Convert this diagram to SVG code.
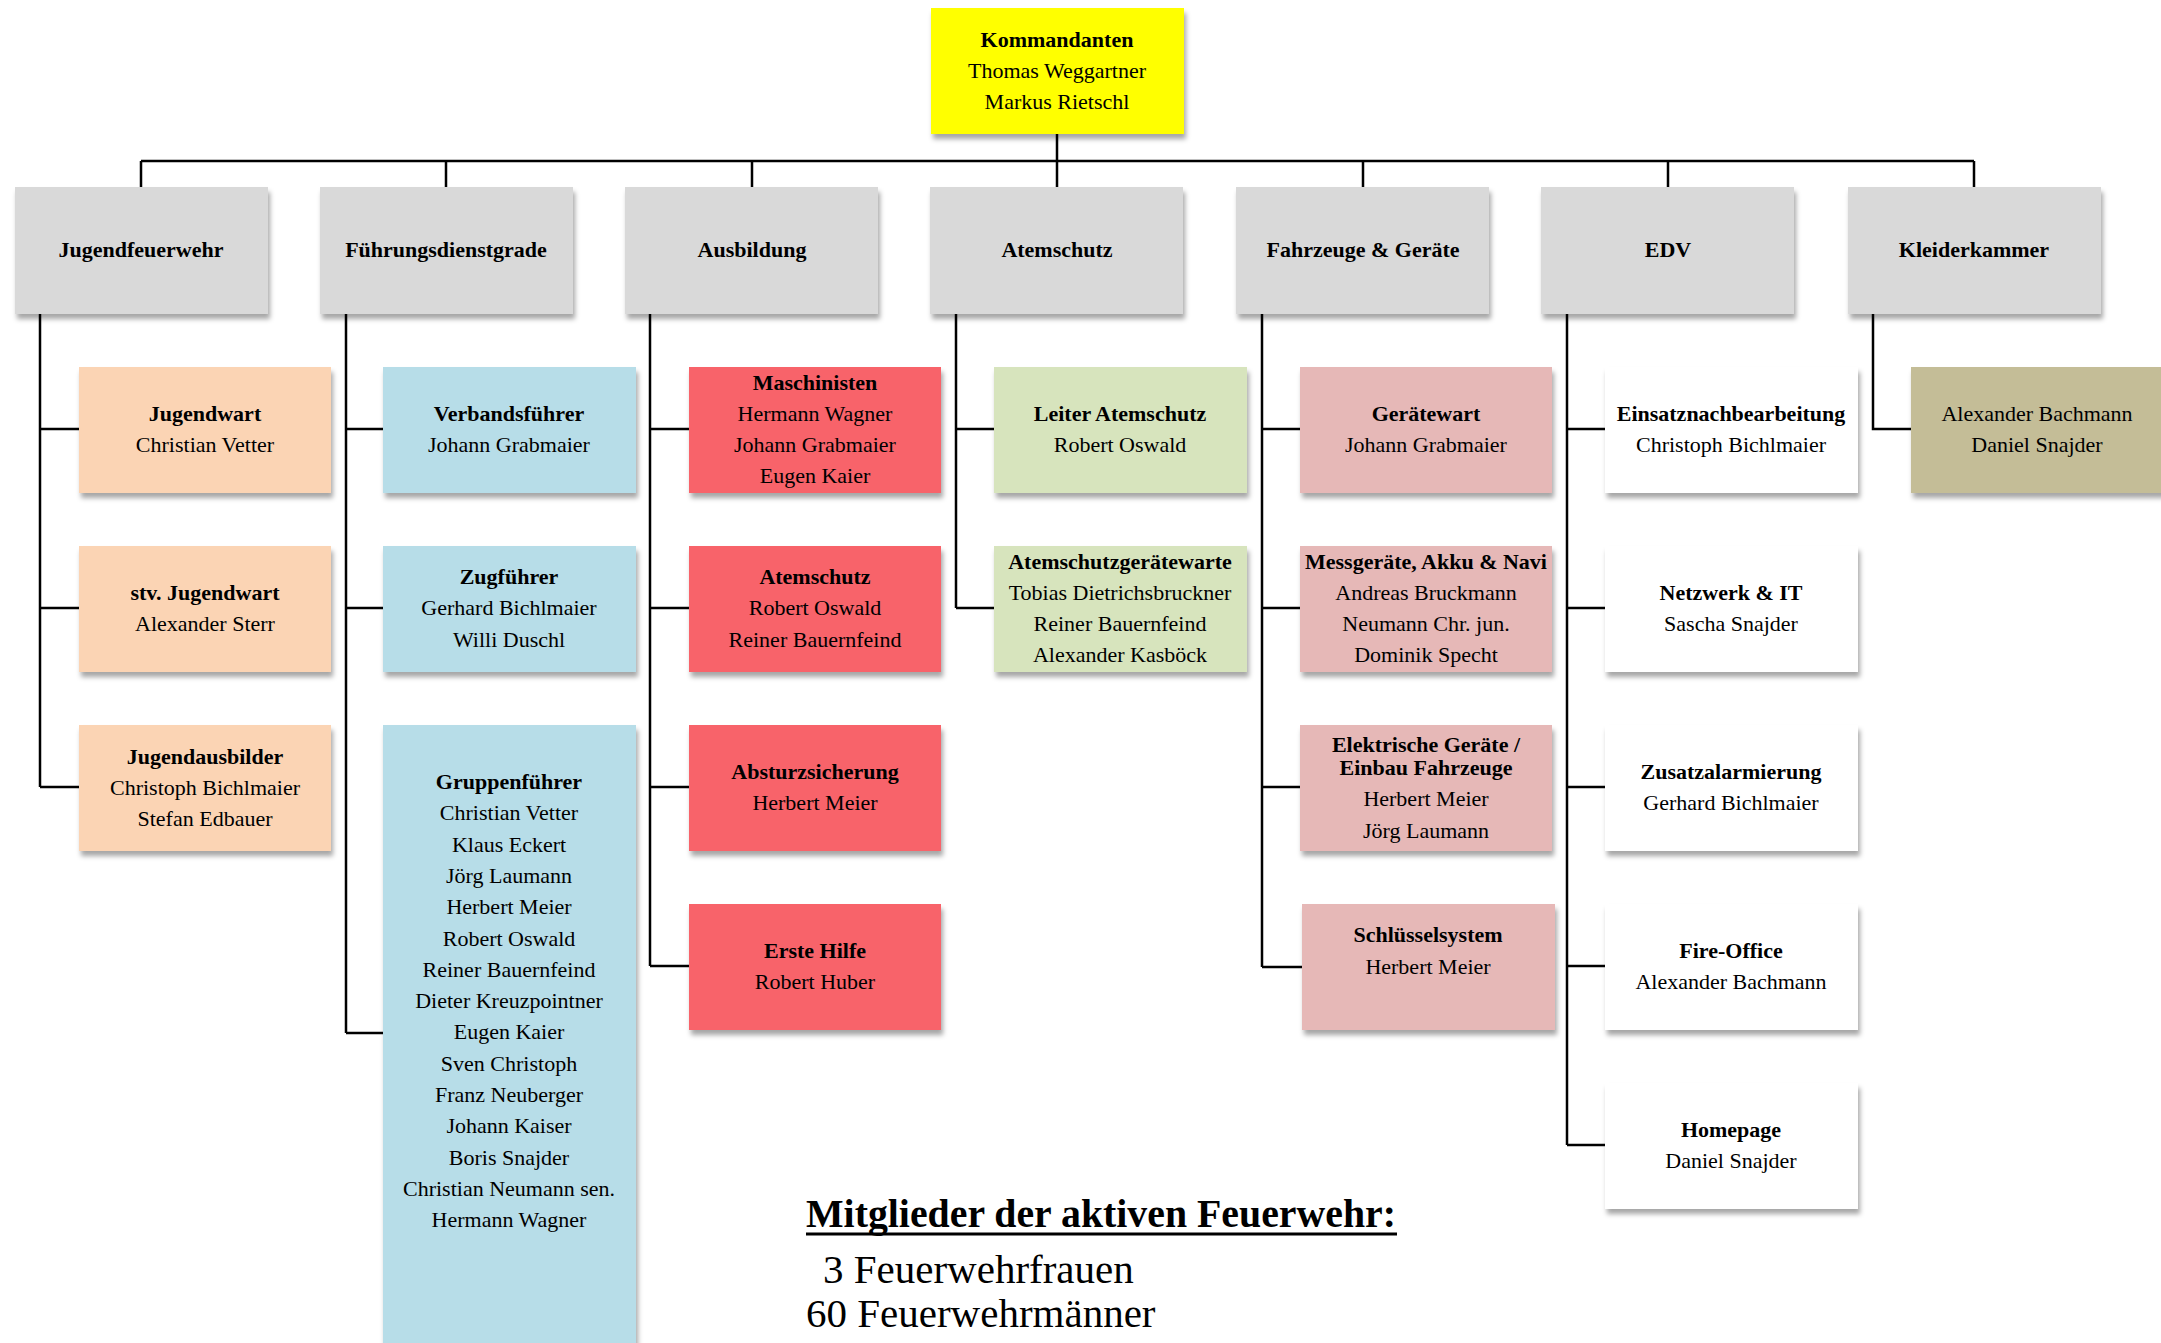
<svg xmlns="http://www.w3.org/2000/svg" width="2161" height="1343" viewBox="0 0 2161 1343">
<defs>
<filter id="sh" x="-10%" y="-10%" width="125%" height="130%">
<feDropShadow dx="2" dy="5" stdDeviation="2.5" flood-color="#000" flood-opacity="0.35"/>
</filter>
<style>
.box{filter:url(#sh)}
.t{font-family:"Liberation Serif","Times New Roman",serif;font-size:22px;text-anchor:middle;fill:#000}
.b{font-weight:bold}
.ln{stroke:#000;stroke-width:2.5;fill:none}
.top{fill:#FFFF00}
.grey{fill:#D9D9D9}
.peach{fill:#FBD4B4}
.blue{fill:#B7DDE8}
.red{fill:#F8636B}
.green{fill:#D7E4BD}
.pink{fill:#E6B8B7}
.white{fill:#FFFFFF}
.khaki{fill:#C4BD97}
.big{font-family:"Liberation Serif","Times New Roman",serif;font-size:41px;fill:#000}
</style>
</defs>
<rect width="2161" height="1343" fill="#fff"/>

<g id="connectors">
<path class="ln" d="M1057 134V161M141 161H1974M141 161V187M446 161V187M752 161V187M1057 161V187M1363 161V187M1668 161V187M1974 161V187"/>
<path class="ln" d="M40 314V787M40 429H79M40 608H79M40 787H79"/>
<path class="ln" d="M346 314V1033M346 429H383M346 608H383M346 1033H383"/>
<path class="ln" d="M650 314V966M650 429H689M650 608H689M650 787H689M650 966H689"/>
<path class="ln" d="M956 314V608M956 429H994M956 608H994"/>
<path class="ln" d="M1262 314V967M1262 429H1300M1262 608H1300M1262 787H1300M1262 967H1302"/>
<path class="ln" d="M1567 314V1145M1567 429H1605M1567 608H1605M1567 787H1605M1567 966H1605M1567 1145H1605"/>
<path class="ln" d="M1873 314V429H1911"/>
</g>

<g id="kommandanten"><rect class="box top" x="931" y="8" width="253" height="126"/>
<text class="t"><tspan class="b" x="1057" y="47">Kommandanten</tspan><tspan x="1057" y="78">Thomas Weggartner</tspan><tspan x="1057" y="109">Markus Rietschl</tspan></text></g>

<g id="jugendfeuerwehr"><rect class="box grey" x="15" y="187" width="253" height="127"/><text class="t b" x="141" y="257">Jugendfeuerwehr</text></g>
<g id="fuehrungsdienstgrade"><rect class="box grey" x="320" y="187" width="253" height="127"/><text class="t b" x="446" y="257">Führungsdienstgrade</text></g>
<g id="ausbildung"><rect class="box grey" x="625" y="187" width="253" height="127"/><text class="t b" x="752" y="257">Ausbildung</text></g>
<g id="atemschutz"><rect class="box grey" x="930" y="187" width="253" height="127"/><text class="t b" x="1057" y="257">Atemschutz</text></g>
<g id="fahrzeuge"><rect class="box grey" x="1236" y="187" width="253" height="127"/><text class="t b" x="1363" y="257">Fahrzeuge &amp; Geräte</text></g>
<g id="edv"><rect class="box grey" x="1541" y="187" width="253" height="127"/><text class="t b" x="1668" y="257">EDV</text></g>
<g id="kleiderkammer"><rect class="box grey" x="1848" y="187" width="253" height="127"/><text class="t b" x="1974" y="257">Kleiderkammer</text></g>

<g id="jugendwart"><rect class="box peach" x="79" y="367" width="252" height="126"/>
<text class="t"><tspan class="b" x="205" y="421">Jugendwart</tspan><tspan x="205" y="452">Christian Vetter</tspan></text></g>
<g id="stv-jugendwart"><rect class="box peach" x="79" y="546" width="252" height="126"/>
<text class="t"><tspan class="b" x="205" y="600">stv. Jugendwart</tspan><tspan x="205" y="631">Alexander Sterr</tspan></text></g>
<g id="jugendausbilder"><rect class="box peach" x="79" y="725" width="252" height="126"/>
<text class="t"><tspan class="b" x="205" y="764">Jugendausbilder</tspan><tspan x="205" y="795">Christoph Bichlmaier</tspan><tspan x="205" y="826">Stefan Edbauer</tspan></text></g>

<g id="verbandsfuehrer"><rect class="box blue" x="383" y="367" width="253" height="126"/>
<text class="t"><tspan class="b" x="509" y="421">Verbandsführer</tspan><tspan x="509" y="452">Johann Grabmaier</tspan></text></g>
<g id="zugfuehrer"><rect class="box blue" x="383" y="546" width="253" height="126"/>
<text class="t"><tspan class="b" x="509" y="584">Zugführer</tspan><tspan x="509" y="615">Gerhard Bichlmaier</tspan><tspan x="509" y="647">Willi Duschl</tspan></text></g>
<g id="gruppenfuehrer"><rect class="box blue" x="383" y="725" width="253" height="630"/>
<text class="t"><tspan class="b" x="509" y="789">Gruppenführer</tspan><tspan x="509" y="820">Christian Vetter</tspan><tspan x="509" y="852">Klaus Eckert</tspan><tspan x="509" y="883">Jörg Laumann</tspan><tspan x="509" y="914">Herbert Meier</tspan><tspan x="509" y="946">Robert Oswald</tspan><tspan x="509" y="977">Reiner Bauernfeind</tspan><tspan x="509" y="1008">Dieter Kreuzpointner</tspan><tspan x="509" y="1039">Eugen Kaier</tspan><tspan x="509" y="1071">Sven Christoph</tspan><tspan x="509" y="1102">Franz Neuberger</tspan><tspan x="509" y="1133">Johann Kaiser</tspan><tspan x="509" y="1165">Boris Snajder</tspan><tspan x="509" y="1196">Christian Neumann sen.</tspan><tspan x="509" y="1227">Hermann Wagner</tspan></text></g>

<g id="maschinisten"><rect class="box red" x="689" y="367" width="252" height="126"/>
<text class="t"><tspan class="b" x="815" y="390">Maschinisten</tspan><tspan x="815" y="421">Hermann Wagner</tspan><tspan x="815" y="452">Johann Grabmaier</tspan><tspan x="815" y="483">Eugen Kaier</tspan></text></g>
<g id="ausb-atemschutz"><rect class="box red" x="689" y="546" width="252" height="126"/>
<text class="t"><tspan class="b" x="815" y="584">Atemschutz</tspan><tspan x="815" y="615">Robert Oswald</tspan><tspan x="815" y="647">Reiner Bauernfeind</tspan></text></g>
<g id="absturzsicherung"><rect class="box red" x="689" y="725" width="252" height="126"/>
<text class="t"><tspan class="b" x="815" y="779">Absturzsicherung</tspan><tspan x="815" y="810">Herbert Meier</tspan></text></g>
<g id="erste-hilfe"><rect class="box red" x="689" y="904" width="252" height="126"/>
<text class="t"><tspan class="b" x="815" y="958">Erste Hilfe</tspan><tspan x="815" y="989">Robert Huber</tspan></text></g>

<g id="leiter-atemschutz"><rect class="box green" x="994" y="367" width="253" height="126"/>
<text class="t"><tspan class="b" x="1120" y="421">Leiter Atemschutz</tspan><tspan x="1120" y="452">Robert Oswald</tspan></text></g>
<g id="atemschutzgeraetewarte"><rect class="box green" x="994" y="546" width="253" height="126"/>
<text class="t"><tspan class="b" x="1120" y="569">Atemschutzgerätewarte</tspan><tspan x="1120" y="600">Tobias Dietrichsbruckner</tspan><tspan x="1120" y="631">Reiner Bauernfeind</tspan><tspan x="1120" y="662">Alexander Kasböck</tspan></text></g>

<g id="geraetewart"><rect class="box pink" x="1300" y="367" width="252" height="126"/>
<text class="t"><tspan class="b" x="1426" y="421">Gerätewart</tspan><tspan x="1426" y="452">Johann Grabmaier</tspan></text></g>
<g id="messgeraete"><rect class="box pink" x="1300" y="546" width="252" height="126"/>
<text class="t"><tspan class="b" x="1426" y="569">Messgeräte, Akku &amp; Navi</tspan><tspan x="1426" y="600">Andreas Bruckmann</tspan><tspan x="1426" y="631">Neumann Chr. jun.</tspan><tspan x="1426" y="662">Dominik Specht</tspan></text></g>
<g id="elektrische-geraete"><rect class="box pink" x="1300" y="725" width="252" height="126"/>
<text class="t"><tspan class="b" x="1426" y="752">Elektrische Geräte /</tspan><tspan class="b" x="1426" y="775">Einbau Fahrzeuge</tspan><tspan x="1426" y="806">Herbert Meier</tspan><tspan x="1426" y="838">Jörg Laumann</tspan></text></g>
<g id="schluesselsystem"><rect class="box pink" x="1302" y="904" width="253" height="126"/>
<text class="t"><tspan class="b" x="1428" y="942">Schlüsselsystem</tspan><tspan x="1428" y="974">Herbert Meier</tspan></text></g>

<g id="einsatznachbearbeitung"><rect class="box white" x="1605" y="367" width="253" height="126"/>
<text class="t"><tspan class="b" x="1731" y="421">Einsatznachbearbeitung</tspan><tspan x="1731" y="452">Christoph Bichlmaier</tspan></text></g>
<g id="netzwerk"><rect class="box white" x="1605" y="546" width="253" height="126"/>
<text class="t"><tspan class="b" x="1731" y="600">Netzwerk &amp; IT</tspan><tspan x="1731" y="631">Sascha Snajder</tspan></text></g>
<g id="zusatzalarmierung"><rect class="box white" x="1605" y="725" width="253" height="126"/>
<text class="t"><tspan class="b" x="1731" y="779">Zusatzalarmierung</tspan><tspan x="1731" y="810">Gerhard Bichlmaier</tspan></text></g>
<g id="fire-office"><rect class="box white" x="1605" y="904" width="253" height="126"/>
<text class="t"><tspan class="b" x="1731" y="958">Fire-Office</tspan><tspan x="1731" y="989">Alexander Bachmann</tspan></text></g>
<g id="homepage"><rect class="box white" x="1605" y="1083" width="253" height="126"/>
<text class="t"><tspan class="b" x="1731" y="1137">Homepage</tspan><tspan x="1731" y="1168">Daniel Snajder</tspan></text></g>

<g id="kleiderkammer-team"><rect class="box khaki" x="1911" y="367" width="260" height="126"/>
<text class="t"><tspan x="2037" y="421">Alexander Bachmann</tspan><tspan x="2037" y="452">Daniel Snajder</tspan></text></g>

<g id="mitglieder">
<text class="big b" x="806" y="1227" textLength="590" lengthAdjust="spacingAndGlyphs">Mitglieder der aktiven Feuerwehr:</text>
<line x1="806" y1="1234" x2="1397" y2="1234" stroke="#000" stroke-width="3"/>
<text class="big" x="823" y="1283">3 Feuerwehrfrauen</text>
<text class="big" x="806" y="1327">60 Feuerwehrmänner</text>
</g>
</svg>
